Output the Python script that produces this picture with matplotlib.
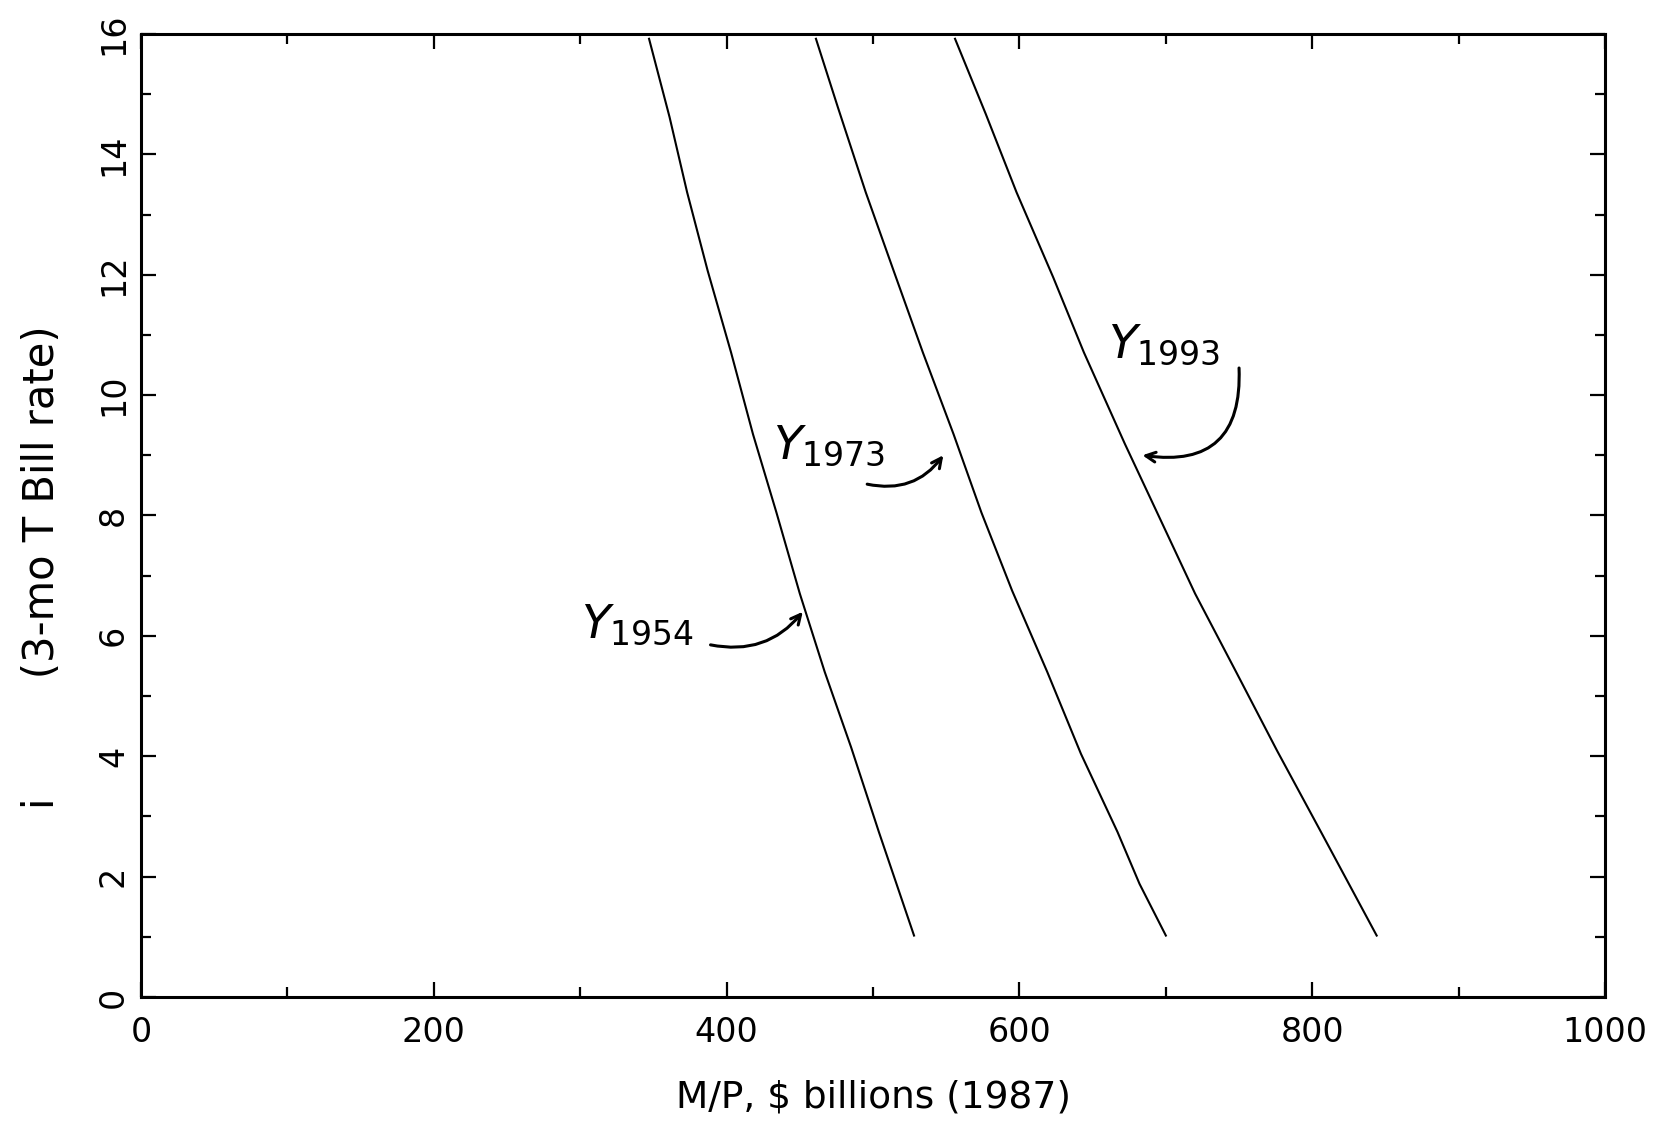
import matplotlib
matplotlib.use("Agg")
import matplotlib.pyplot as plt
from matplotlib.ticker import MultipleLocator

plt.rcParams['font.family'] = ['DejaVu Sans']
plt.rcParams['mathtext.fontset'] = 'dejavusans'

# Кривые спроса на деньги: (M/P, i)
rate_1954 = [15.92, 14.62, 13.37, 12.07, 10.71, 9.35, 8.05, 6.70, 5.40, 4.15, 2.74, 1.88, 1.02]
mp_1954 = [347, 361, 373, 387, 403, 418, 434, 450, 467, 485, 504, 516, 528]

rate_1973 = [15.92, 14.78, 13.37, 12.07, 10.71, 9.35, 8.05, 6.75, 5.40, 4.04, 2.74, 1.88, 1.02]
mp_1973 = [461, 476, 495, 514, 534, 555, 574, 595, 619, 642, 667, 682, 700]

rate_1993 = [15.92, 14.67, 13.37, 11.96, 10.71, 9.19, 8.05, 6.70, 5.40, 4.09, 2.74, 1.88, 1.02]
mp_1993 = [556, 577, 598, 623, 644, 672, 694, 720, 748, 776, 806, 825, 844]

labels = [r"$Y_{\mathit{1954}}$", r"$Y_{\mathit{1973}}$", r"$Y_{\mathit{1993}}$"]
label_pos = [(339, 6.18), (470, 9.15), (699, 10.83)]
arrow_tail = [(389, 5.85), (496, 8.52), (750, 10.45)]
arrow_head = [(452, 6.4), (548, 9.0), (684, 9.0)]
arrow_rad = [0.3, 0.32, -0.6]

x_ticks = [0, 200, 400, 600, 800, 1000]
y_ticks = [0, 2, 4, 6, 8, 10, 12, 14, 16]


def draw_curves(ax):
    for mp, rate in ((mp_1954, rate_1954), (mp_1973, rate_1973), (mp_1993, rate_1993)):
        ax.plot(mp, rate, color='black', lw=1.5)


def draw_notes(ax):
    # подписи "от руки" и стрелки
    for text, pos in zip(labels, label_pos):
        ax.text(pos[0], pos[1], text, fontsize=34, ha='center', va='center', style='italic')
    for tail, head, rad in zip(arrow_tail, arrow_head, arrow_rad):
        ax.annotate("", xy=head, xytext=tail,
                    arrowprops=dict(arrowstyle="->,head_length=0.7,head_width=0.35",
                                    color='black', lw=2.2,
                                    connectionstyle="arc3,rad=%s" % rad,
                                    shrinkA=0, shrinkB=0))


def setup_axes(ax):
    ax.set_xlim(0, 1000)
    ax.set_ylim(0, 16)
    ax.set_xticks(x_ticks)
    ax.set_yticks(y_ticks)
    ax.xaxis.set_minor_locator(MultipleLocator(100))
    ax.yaxis.set_minor_locator(MultipleLocator(1))
    ax.tick_params(which='both', direction='in', top=True, right=True, width=1.6)
    ax.tick_params(which='major', length=11)
    ax.tick_params(which='minor', length=7.5)
    ax.tick_params(axis='x', labelsize=24, pad=14)
    ax.tick_params(axis='y', labelsize=24, pad=8)
    for lab in ax.get_yticklabels():
        lab.set_rotation(90)
        lab.set_va('center')
    for sp in ax.spines.values():
        sp.set_linewidth(2.2)
    ax.set_xlabel("M/P, $ billions (1987)", fontsize=27, labelpad=22)
    ax.set_ylabel("i         (3-mo T Bill rate)", fontsize=30)
    ax.yaxis.set_label_coords(-0.053, 0.446)


def main():
    fig = plt.figure(figsize=(16.65, 11.36), dpi=100)
    ax = fig.add_axes([0.0847, 0.1224, 0.8793, 0.8477])
    setup_axes(ax)
    draw_curves(ax)
    draw_notes(ax)
    fig.savefig('out.png', dpi=100)


if __name__ == '__main__':
    main()
